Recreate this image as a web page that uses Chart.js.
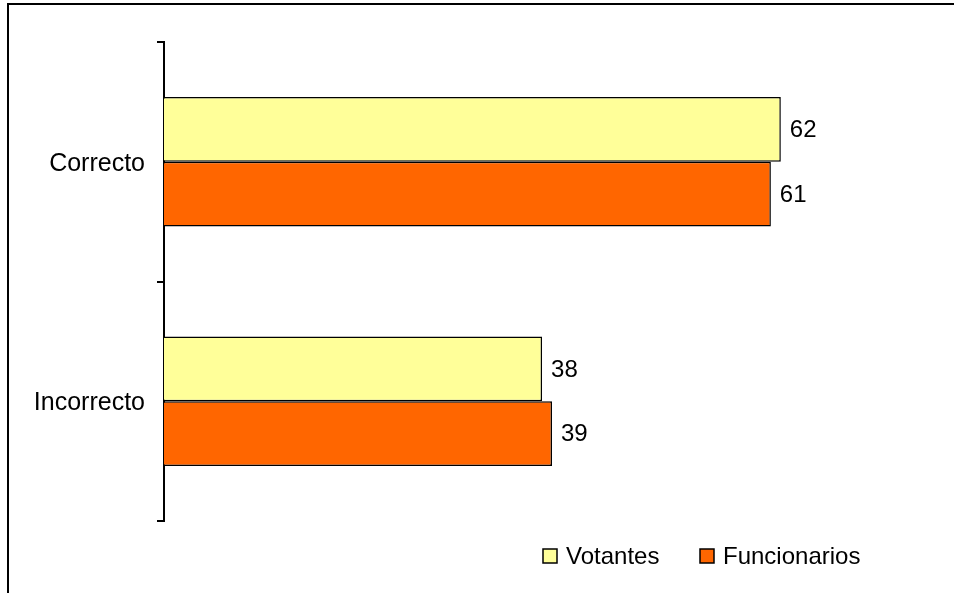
<!DOCTYPE html>
<html>
<head>
<meta charset="utf-8">
<script src="https://cdn.jsdelivr.net/npm/chart.js@4/dist/chart.umd.min.js"></script>
<style>
  html, body { margin: 0; padding: 0; background: #fff; }
  #chart { display: block; }
</style>
</head>
<body>
<canvas id="chart" width="954" height="593"></canvas>
<script>
const categories = ['Correcto', 'Incorrecto'];
const votantes = [62, 38];
const funcionarios = [61, 39];
const seriesNames = ['Votantes', 'Funcionarios'];

const FONT = '"Liberation Sans", Arial, sans-serif';

// outer frame (only top and left edges are visible in the reference)
const framePlugin = {
  id: 'frame',
  afterDraw(chart) {
    const c = chart.ctx;
    c.save();
    c.strokeStyle = '#000';
    c.lineWidth = 2;
    c.beginPath();
    c.moveTo(8, 593);
    c.lineTo(8, 4);
    c.lineTo(954, 4);
    c.stroke();
    c.restore();
  }
};

// value labels to the right of each bar
const valueLabels = {
  id: 'valueLabels',
  afterDatasetsDraw(chart) {
    const c = chart.ctx;
    c.save();
    c.font = '24px ' + FONT;
    c.fillStyle = '#000';
    c.textBaseline = 'middle';
    c.textAlign = 'left';
    chart.data.datasets.forEach((ds, i) => {
      chart.getDatasetMeta(i).data.forEach((bar, j) => {
        c.fillText(ds.data[j], bar.x + 9, bar.y + 1);
      });
    });
    c.restore();
  }
};

// legend box at the bottom right
const legendPlugin = {
  id: 'customLegend',
  afterDraw(chart) {
    const c = chart.ctx;
    const xs = [543, 700];
    const y = 556;
    c.save();
    c.font = '24px ' + FONT;
    c.textBaseline = 'middle';
    chart.data.datasets.forEach((ds, i) => {
      c.fillStyle = ds.backgroundColor;
      c.fillRect(xs[i], y - 7, 14, 14);
      c.strokeStyle = '#000';
      c.lineWidth = 1.5;
      c.strokeRect(xs[i], y - 7, 14, 14);
      c.fillStyle = '#000';
      c.fillText(ds.label, xs[i] + 23, y + 1);
    });
    c.restore();
  }
};

new Chart(document.getElementById('chart'), {
  type: 'bar',
  data: {
    labels: categories,
    datasets: [
      {
        label: seriesNames[0],
        data: votantes,
        backgroundColor: '#FFFF99',
        borderColor: '#000',
        borderWidth: 1.5,
        categoryPercentage: 0.54,
        barPercentage: 1
      },
      {
        label: seriesNames[1],
        data: funcionarios,
        backgroundColor: '#FF6600',
        borderColor: '#000',
        borderWidth: 1.5,
        categoryPercentage: 0.54,
        barPercentage: 1
      }
    ]
  },
  options: {
    indexAxis: 'y',
    responsive: false,
    animation: false,
    layout: { padding: { left: 0, right: 14, top: 42, bottom: 72 } },
    plugins: {
      legend: { display: false },
      tooltip: { enabled: false }
    },
    scales: {
      x: {
        display: false,
        min: 0,
        max: 78
      },
      y: {
        afterFit(scale) { scale.width = 164; },
        border: { display: true, color: '#000', width: 2 },
        grid: {
          drawOnChartArea: false,
          drawTicks: true,
          tickLength: 7,
          color: '#000',
          lineWidth: 2,
          offset: true
        },
        ticks: {
          color: '#000',
          padding: 12,
          labelOffset: 2,
          font: { family: FONT, size: 25 }
        }
      }
    }
  },
  plugins: [framePlugin, valueLabels, legendPlugin]
});
</script>
</body>
</html>
